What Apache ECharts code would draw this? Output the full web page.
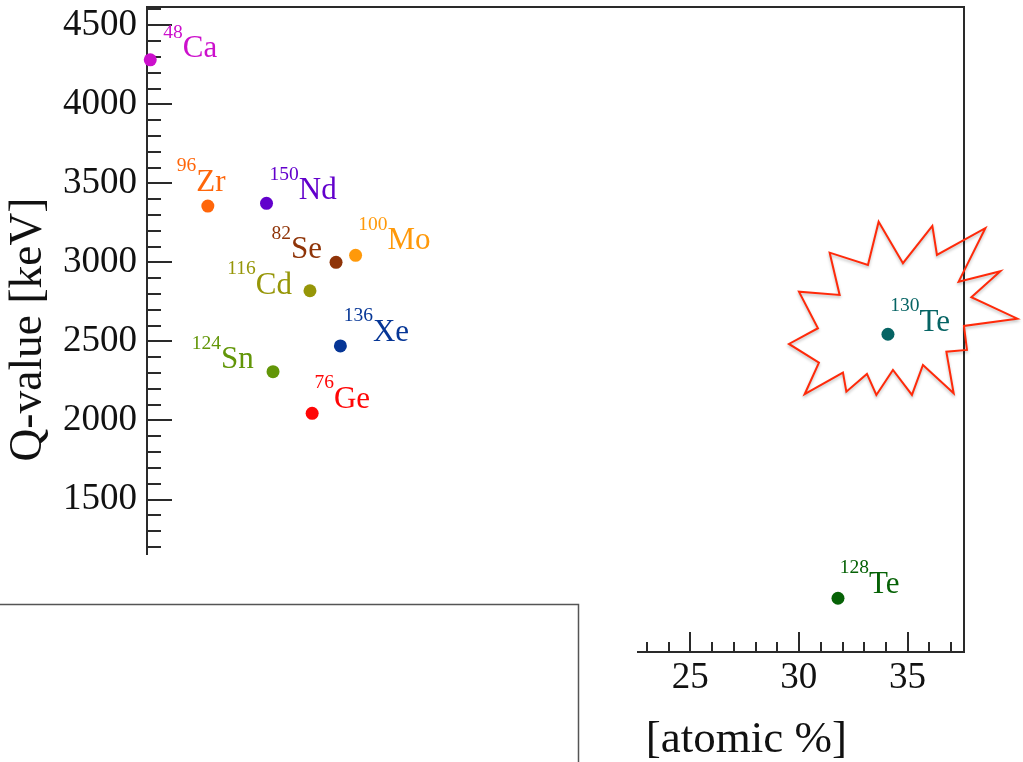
<!DOCTYPE html>
<html>
<head>
<meta charset="utf-8">
<script src="https://cdn.jsdelivr.net/npm/echarts@6/dist/echarts.min.js"></script>
<style>
  html, body { margin: 0; padding: 0; background: #ffffff; }
  #chart { width: 1023px; height: 762px; }
</style>
</head>
<body>
<div id="chart"></div>
<script>
// Double-beta-decay candidates: natural isotopic abundance vs Q-value
const isotopes    = ['Ca', 'Zr', 'Nd', 'Se', 'Mo', 'Cd', 'Xe', 'Sn', 'Ge', 'Te', 'Te'];
const massNumbers = ['48', '96', '150', '82', '100', '116', '136', '124', '76', '130', '128'];
const abundance   = [0.15, 2.8, 5.5, 8.7, 9.6, 7.5, 8.9, 5.8, 7.6, 34.1, 31.8];   // atomic %
const qValue      = [4280, 3355, 3372, 2999, 3043, 2819, 2470, 2307, 2044, 2544, 874]; // keV

const xMajorTicks = [0, 5, 10, 15, 20, 25, 30, 35];
const yMajorTicks = [1000, 1500, 2000, 2500, 3000, 3500, 4000, 4500];
const xMinorStep = 1;
const yMinorStep = 100;

// styling
const markerColors = ['#cc10cc', '#ff660a', '#6200cc', '#8f3408', '#ff990a', '#969608',
                      '#063696', '#629608', '#ff0606', '#066464', '#066206'];
// label anchor: box bottom edge sits at point + offset
const labelPlacement = [
  { align: 'left',   offset: [13, 16] },
  { align: 'left',   offset: [-31, 3] },
  { align: 'left',   offset: [3, 14.5] },
  { align: 'right',  offset: [-14, 14.4] },
  { align: 'left',   offset: [2.7, 12.4] },
  { align: 'right',  offset: [-18, 21.3] },
  { align: 'left',   offset: [3.3, 13.3] },
  { align: 'right',  offset: [-19.3, 15] },
  { align: 'left',   offset: [2.3, 12.7] },
  { align: 'left',   offset: [2.4, 15] },
  { align: 'left',   offset: [1.7, 12.7] }
];
// starburst highlight around the 130Te point, pixel offsets from its centre
const burstOffsets = [
  [-9.3, -112.6], [15, -71], [44.4, -108.3], [49, -79.3], [97.4, -106], [70.7, -52.6],
  [112.4, -63], [83.4, -37], [129.4, -15.6], [76, -8.3], [79, 15.7], [58.4, 17.4],
  [65.7, 59], [35, 30.7], [24, 60.7], [5, 35.7], [-11.6, 60.7], [-21, 39.7],
  [-41.6, 57.4], [-45, 38.4], [-83.3, 60], [-69, 28.4], [-99, 9.7], [-70, -6],
  [-89, -42.6], [-48.3, -39.3], [-58.3, -81.6], [-20, -69.3]
];

const FONT = "'Liberation Serif', 'Times New Roman', 'DejaVu Serif', serif";
const X_MIN = 0, X_MAX = 37.6;
const Y_MIN = 534, Y_MAX = 4614;

function steps(from, to, step) {
  const out = [];
  for (let v = from; v <= to + 1e-9; v += step) out.push(Math.round(v * 1000) / 1000);
  return out;
}
const xMinorTicks = steps(Math.ceil(X_MIN), Math.floor(X_MAX), xMinorStep);
const yMinorTicks = steps(Math.ceil(Y_MIN / yMinorStep) * yMinorStep, Y_MAX, yMinorStep);

const points = abundance.map((x, i) => ({
  value: [x, qValue[i]],
  itemStyle: { color: markerColors[i], opacity: 1 },
  label: {
    show: true,
    position: 'inside',
    align: labelPlacement[i].align,
    verticalAlign: 'bottom',
    offset: labelPlacement[i].offset,
    formatter: '{s|' + massNumbers[i] + '}{e|' + isotopes[i] + '}',
    rich: {
      s: { fontFamily: FONT, fontSize: 19.5, verticalAlign: 'top', color: markerColors[i] },
      e: { fontFamily: FONT, fontSize: 31, lineHeight: 53, verticalAlign: 'middle', color: markerColors[i] }
    }
  }
}));

const AXIS_COLOR = '#2a2a2a';

const chart = echarts.init(document.getElementById('chart'), null, { renderer: 'canvas' });

chart.setOption({
  animation: false,
  backgroundColor: '#ffffff',
  grid: {
    left: 147, right: 59, top: 7, bottom: 110,
    containLabel: false, outerBoundsMode: 'none',
    show: true, borderColor: AXIS_COLOR, borderWidth: 2, backgroundColor: 'transparent'
  },
  xAxis: [
    {
      type: 'value', min: X_MIN, max: X_MAX, position: 'bottom',
      name: '[atomic %]', nameLocation: 'end', nameGap: -117,
      nameTextStyle: { fontFamily: FONT, fontSize: 45, color: '#111', align: 'right',
                       verticalAlign: 'top', padding: [66, 0, 0, 0] },
      axisLine: { show: true, onZero: false, lineStyle: { color: AXIS_COLOR, width: 2 } },
      axisTick: { show: true, inside: true, length: 20, customValues: xMajorTicks,
                  lineStyle: { color: AXIS_COLOR, width: 2 } },
      axisLabel: { show: true, customValues: xMajorTicks, margin: 8,
                   formatter: v => String(v),
                   fontFamily: FONT, fontSize: 37, color: '#111' },
      splitLine: { show: false }
    },
    {
      type: 'value', min: X_MIN, max: X_MAX, position: 'bottom',
      axisLine: { show: false, onZero: false },
      axisTick: { show: true, inside: true, length: 10, customValues: xMinorTicks,
                  lineStyle: { color: AXIS_COLOR, width: 2 } },
      axisLabel: { show: false },
      splitLine: { show: false }
    }
  ],
  yAxis: [
    {
      type: 'value', min: Y_MIN, max: Y_MAX, position: 'left',
      name: 'Q-value [keV]', nameLocation: 'middle', nameRotate: 90, nameGap: 69,
      nameTextStyle: { fontFamily: FONT, fontSize: 45.5, color: '#111' },
      axisLine: { show: true, onZero: false, lineStyle: { color: AXIS_COLOR, width: 2 } },
      axisTick: { show: true, inside: true, length: 25, customValues: yMajorTicks,
                  lineStyle: { color: AXIS_COLOR, width: 2 } },
      axisLabel: { show: true, customValues: yMajorTicks, margin: 10,
                   formatter: v => String(v),
                   fontFamily: FONT, fontSize: 37, color: '#111' },
      splitLine: { show: false }
    },
    {
      type: 'value', min: Y_MIN, max: Y_MAX, position: 'left',
      axisLine: { show: false, onZero: false },
      axisTick: { show: true, inside: true, length: 14, customValues: yMinorTicks,
                  lineStyle: { color: AXIS_COLOR, width: 2 } },
      axisLabel: { show: false },
      splitLine: { show: false }
    }
  ],
  series: [{
    type: 'scatter',
    xAxisIndex: 0, yAxisIndex: 0,
    symbol: 'circle', symbolSize: 13,
    data: points,
    emphasis: { disabled: true },
    z: 3
  }]
});

// highlight burst around 130Te and the panel laid over the lower-left corner
const tePx = chart.convertToPixel({ xAxisIndex: 0, yAxisIndex: 0 }, [abundance[9], qValue[9]]);
chart.setOption({
  graphic: [
    {
      type: 'polygon', z: 1, silent: true,
      x: tePx[0], y: tePx[1],
      shape: { points: burstOffsets },
      style: { fill: 'rgba(255,255,255,0)', stroke: '#ff2a0a', lineWidth: 2,
               shadowBlur: 3, shadowColor: 'rgba(0,0,0,0.25)', shadowOffsetY: 2 }
    },
    {
      type: 'rect', z: 100, silent: true,
      shape: { x: 0, y: 555, width: 637, height: 207 },
      style: { fill: '#ffffff', stroke: null }
    },
    {
      type: 'rect', z: 101, silent: true,
      shape: { x: -3, y: 604.5, width: 581.5, height: 170 },
      style: { fill: '#ffffff', stroke: '#555555', lineWidth: 1.5 }
    }
  ]
});
</script>
</body>
</html>
